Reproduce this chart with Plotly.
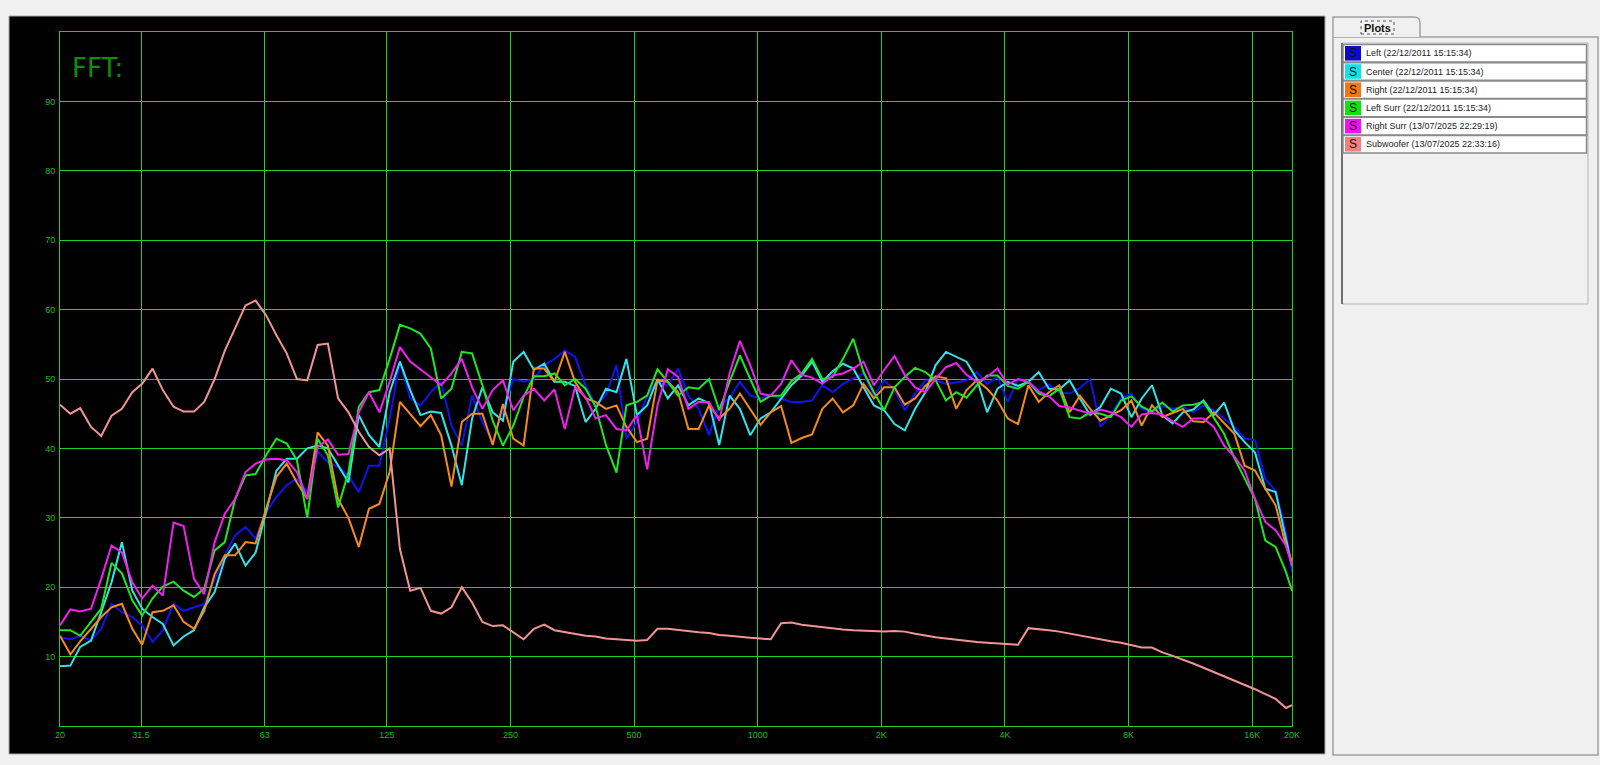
import math
import plotly.graph_objects as go

# ---------------- data ----------------
freq_hz = [
    20.0, 21.2, 22.4, 23.8, 25.2, 26.7, 28.3, 30.0, 31.7, 33.6, 35.6, 37.8,
    40.0, 42.4, 44.9, 47.6, 50.4, 53.4, 56.6, 59.9, 63.5, 67.3, 71.3, 75.5,
    80.0, 84.8, 89.8, 95.1, 100.8, 106.8, 113.1, 119.9, 127.0, 134.5, 142.5, 151.0,
    160, 169.5, 179.6, 190.3, 201.6, 213.6, 226.3, 239.7, 254.0, 269.1, 285.1, 302.1,
    320, 339, 359, 381, 403, 427, 453, 479, 508, 538, 570, 604,
    640, 678, 718, 761, 806, 854, 905, 959, 1016, 1076, 1140, 1208,
    1280, 1356, 1437, 1522, 1613, 1709, 1810, 1918, 2032, 2153, 2281, 2417,
    2560, 2712, 2874, 3044, 3225, 3417, 3620, 3836, 4064, 4305, 4561, 4833,
    5120, 5424, 5747, 6089, 6451, 6834, 7241, 7671, 8127, 8611, 9123, 9665,
    10240, 10849, 11494, 12177, 12902, 13669, 14482, 15343, 16255, 17222, 18246, 19331,
    20000,
]

left_db = [
    12.8, 12.5, 13.0, 12.3, 14.0, 17.6, 16.4, 15.7, 14.5, 12.1, 13.8, 17.6,
    16.6, 17.1, 17.6, 21.2, 24.6, 27.5, 28.7, 27.0, 30.8, 33.0, 34.7, 35.6,
    33.7, 39.5, 38.0, 37.3, 36.1, 33.7, 37.5, 37.5, 44.3, 52.5, 47.2, 46.2,
    48.1, 49.6, 43.3, 40.4, 47.6, 43.8, 40.9, 45.5, 50.0, 49.6, 50.0, 52.0,
    52.9, 54.1, 53.2, 49.1, 46.2, 47.6, 52.0, 41.4, 43.8, 47.6, 49.6, 49.1,
    51.5, 47.6, 45.7, 41.9, 46.2, 47.2, 49.6, 47.6, 47.2, 47.6, 47.2, 46.7,
    46.7, 46.9, 49.1, 48.1, 49.3, 50.0, 50.8, 47.6, 49.8, 48.4, 45.5, 47.9,
    49.8, 49.8, 49.3, 49.5, 49.8, 51.0, 49.3, 50.3, 46.7, 50.0, 49.6, 48.4,
    49.2, 48.1, 47.9, 48.7, 50.0, 43.1, 44.8, 47.2, 47.9, 45.7, 45.2, 46.1,
    45.7, 46.0, 45.2, 46.2, 45.5, 44.3, 43.1, 41.4, 41.2, 35.6, 33.9, 27.9,
    22.2,
]

center_db = [
    8.6, 8.7, 11.4, 12.3, 16.4, 20.7, 26.5, 19.5, 16.9, 15.7, 14.7, 11.6,
    12.9, 13.8, 17.1, 19.3, 24.1, 26.3, 23.1, 25.0, 30.8, 36.8, 38.5, 38.5,
    40.0, 40.4, 40.0, 37.5, 35.1, 44.8, 41.9, 40.2, 48.1, 52.5, 48.4, 44.8,
    45.3, 45.1, 40.4, 34.7, 44.3, 48.8, 45.2, 44.0, 52.5, 53.9, 51.3, 52.2,
    49.6, 49.6, 49.0, 43.8, 45.7, 48.6, 48.1, 52.9, 44.8, 46.2, 50.0, 47.2,
    49.1, 46.2, 47.2, 46.5, 40.5, 47.6, 45.7, 41.9, 44.3, 45.2, 47.2, 49.1,
    50.5, 52.5, 49.6, 51.1, 52.2, 51.5, 48.8, 46.2, 45.5, 43.5, 42.6, 45.7,
    48.1, 52.0, 53.9, 53.2, 52.5, 50.0, 45.2, 48.6, 49.6, 49.0, 49.6, 51.0,
    48.6, 48.5, 49.8, 47.2, 44.8, 46.0, 48.6, 47.9, 44.5, 47.2, 49.1, 44.8,
    43.6, 45.2, 45.6, 46.9, 44.8, 46.6, 42.6, 40.9, 39.4, 34.2, 33.7, 27.0,
    23.1,
]

right_db = [
    13.0, 10.3, 12.2, 14.0, 15.7, 17.1, 17.6, 14.0, 11.7, 16.4, 16.6, 17.4,
    15.0, 14.0, 16.6, 21.9, 24.6, 24.6, 26.5, 26.3, 31.3, 35.9, 37.8, 35.1,
    32.7, 42.3, 40.4, 32.7, 30.0, 25.8, 31.3, 32.0, 36.6, 46.7, 45.0, 43.2,
    44.8, 41.9, 34.5, 43.8, 45.0, 45.0, 40.5, 46.4, 41.4, 40.4, 51.5, 51.5,
    49.6, 53.9, 49.6, 47.2, 46.7, 45.7, 46.2, 43.1, 40.9, 41.4, 49.8, 49.6,
    48.1, 42.8, 42.8, 46.2, 44.3, 45.7, 47.9, 45.7, 43.4, 45.2, 46.1, 40.8,
    41.5, 42.0, 45.7, 47.2, 45.2, 46.2, 49.3, 47.2, 48.8, 48.8, 46.3, 47.2,
    49.0, 50.4, 50.1, 45.7, 48.4, 49.8, 48.6, 46.9, 44.3, 43.5, 49.1, 46.7,
    48.1, 49.1, 45.2, 47.6, 45.7, 44.0, 44.8, 45.5, 46.9, 43.3, 46.2, 44.5,
    45.1, 45.7, 43.9, 43.8, 45.2, 43.6, 42.1, 37.5, 36.8, 34.2, 31.8, 26.0,
    23.6,
]

left_surr_db = [
    13.8, 13.8, 13.0, 15.0, 16.9, 23.5, 22.0, 18.1, 15.9, 18.4, 20.1, 20.8,
    19.5, 18.6, 19.8, 25.3, 26.5, 32.7, 36.1, 36.3, 39.0, 41.4, 40.7, 38.3,
    30.0, 41.4, 39.0, 31.5, 36.6, 46.0, 48.1, 48.4, 52.9, 57.8, 57.3, 56.5,
    54.4, 47.2, 48.6, 53.9, 53.7, 49.1, 44.0, 40.4, 43.3, 47.4, 50.4, 50.4,
    50.8, 49.1, 50.0, 48.6, 46.0, 40.5, 36.5, 46.2, 46.7, 47.6, 51.4, 49.6,
    47.6, 48.8, 48.6, 50.0, 45.5, 49.6, 53.4, 50.0, 46.7, 47.6, 47.6, 49.7,
    50.8, 52.9, 50.0, 50.3, 52.9, 55.8, 51.0, 48.1, 45.5, 48.8, 50.3, 51.6,
    51.0, 49.8, 46.9, 48.1, 47.3, 49.1, 50.5, 50.5, 49.0, 48.6, 49.6, 47.9,
    47.5, 48.6, 44.5, 44.3, 45.2, 45.0, 44.5, 46.9, 47.5, 46.0, 45.3, 46.6,
    45.3, 46.2, 46.3, 46.7, 44.3, 42.1, 38.6, 35.6, 32.7, 26.7, 25.8, 22.2,
    19.5,
]

right_surr_db = [
    14.5, 16.8, 16.5, 16.9, 21.2, 26.0, 25.0, 20.7, 18.4, 20.2, 18.8, 29.3,
    28.8, 21.2, 19.0, 26.5, 30.6, 32.7, 36.6, 37.8, 38.4, 38.5, 38.3, 36.6,
    32.8, 40.2, 41.3, 39.1, 39.2, 45.2, 48.1, 45.2, 49.6, 54.6, 52.5, 51.4,
    50.3, 49.1, 50.8, 52.9, 48.8, 45.7, 48.4, 49.8, 45.5, 47.6, 48.6, 46.9,
    48.5, 42.8, 48.8, 47.4, 44.3, 44.8, 42.8, 42.6, 44.8, 37.0, 46.2, 51.4,
    50.3, 45.7, 46.7, 46.7, 44.0, 50.8, 55.5, 52.0, 47.9, 47.6, 49.3, 52.7,
    50.6, 50.2, 49.3, 50.5, 50.8, 51.5, 52.5, 49.1, 51.3, 53.3, 50.6, 48.8,
    48.1, 50.0, 51.7, 52.3, 50.6, 49.6, 50.3, 51.5, 49.2, 50.0, 49.6, 48.2,
    47.5, 46.1, 45.9, 45.5, 45.0, 45.6, 45.2, 44.5, 43.1, 44.9, 45.1, 44.9,
    43.9, 43.1, 44.3, 44.3, 43.1, 40.4, 38.8, 36.8, 32.7, 29.4, 28.2, 26.0,
    23.1,
]

subwoofer_db = [
    46.3, 45.0, 45.8, 43.1, 41.8, 44.7, 45.7, 48.1, 49.3, 51.5, 48.4, 46.0,
    45.3, 45.3, 46.7, 50.0, 54.1, 57.3, 60.6, 61.3, 59.2, 56.3, 53.7, 50.0,
    49.8, 54.9, 55.1, 47.2, 45.2, 42.4, 40.2, 39.0, 40.0, 25.5, 19.5, 19.9,
    16.6, 16.2, 17.1, 20.0, 17.8, 15.0, 14.4, 14.5, 13.5, 12.5, 14.0, 14.6,
    13.8, 13.5, 13.3, 13.0, 12.9, 12.6, 12.5, 12.4, 12.3, 12.4, 14.0, 14.0,
    13.8, 13.7, 13.5, 13.4, 13.1, 13.0, 12.8, 12.7, 12.6, 12.5, 14.8, 14.9,
    14.6, 14.4, 14.3, 14.1, 13.9, 13.8, 13.7, 13.7, 13.6, 13.7, 13.6, 13.3,
    13.0, 12.8, 12.6, 12.4, 12.3, 12.1, 12.0, 11.9, 11.8, 11.7, 14.1, 14.0,
    13.8, 13.6, 13.3, 13.1, 12.8, 12.5, 12.2, 12.0, 11.6, 11.3, 11.3, 10.6,
    10.1, 9.6, 9.0, 8.4, 7.8, 7.2, 6.6, 6.0, 5.3, 4.6, 3.9, 2.6,
    3.0,
]

series_names = ["Left", "Center", "Right", "Left Surr", "Right Surr", "Subwoofer"]
series_dates = ["22/12/2011 15:15:34", "22/12/2011 15:15:34", "22/12/2011 15:15:34",
                "22/12/2011 15:15:34", "13/07/2025 22:29:19", "13/07/2025 22:33:16"]
series_values = [left_db, center_db, right_db, left_surr_db, right_surr_db, subwoofer_db]

x_tick_vals = [20, 31.5, 63, 125, 250, 500, 1000, 2000, 4000, 8000, 16000, 20000]
x_tick_text = ["20", "31.5", "63", "125", "250", "500", "1000", "2K", "4K", "8K", "16K", "20K"]
y_tick_vals = [10, 20, 30, 40, 50, 60, 70, 80, 90]

# ---------------- styling ----------------
line_colors = ["#1212ee", "#33e3ea", "#f58a1e", "#1fe61f", "#ee22ee", "#f29494"]
swatch_colors = ["#0a0ad0", "#10e0e8", "#f07814", "#10e010", "#f010f0", "#f08080"]
GRID = "#22cf22"
LABEL = "#1cbf1c"

W, H = 1600, 765
L, R, T, B = 60, 308, 32, 39
PW, PH = W - L - R, H - T - B


def px(xp):
    return (xp - L) / PW


def py(yp):
    return (H - B - yp) / PH


fig = go.Figure()
for name, vals, col in zip(series_names, series_values, line_colors):
    fig.add_trace(go.Scatter(x=freq_hz, y=vals, mode="lines", name=name,
                             line=dict(color=col, width=2), hoverinfo="skip"))

shapes = []
annotations = []

# black scope panel
shapes.append(dict(type="rect", xref="paper", yref="paper", layer="below",
                   x0=px(9), x1=px(1325), y0=py(754), y1=py(16),
                   fillcolor="black", line=dict(color="#a8a8a8", width=1)))

# right-hand "Plots" tab panel
shapes.append(dict(type="rect", xref="paper", yref="paper", layer="below",
                   x0=px(1333), x1=px(1598), y0=py(755), y1=py(37),
                   fillcolor="#f0f0f0", line=dict(color="#a0a0a0", width=1.5)))
tab_path = "M {a},{b} L {a},{c} L {d},{c} Q {e},{c} {e},{f} L {e},{b}".format(
    a=px(1333), b=py(37), c=py(17), d=px(1414), e=px(1420), f=py(23))
shapes.append(dict(type="path", xref="paper", yref="paper", path=tab_path,
                   fillcolor="#f0f0f0", line=dict(color="#a0a0a0", width=1.5)))
shapes.append(dict(type="rect", xref="paper", yref="paper",
                   x0=px(1361), x1=px(1394), y0=py(34), y1=py(21),
                   line=dict(color="#555555", width=1, dash="dot")))
annotations.append(dict(x=px(1377), y=py(28), xref="paper", yref="paper",
                        xanchor="center", yanchor="middle",
                        text="<b>Plots</b>", showarrow=False,
                        font=dict(family="Liberation Sans", size=11, color="#111111")))
# list box
shapes.append(dict(type="rect", xref="paper", yref="paper",
                   x0=px(1342), x1=px(1588), y0=py(304), y1=py(43),
                   fillcolor="#f0f0f0", line=dict(color="#b4b4b4", width=1)))
shapes.append(dict(type="line", xref="paper", yref="paper",
                   x0=px(1342), x1=px(1342), y0=py(304), y1=py(43),
                   line=dict(color="#707070", width=2)))

row_top0, row_pitch, row_h = 44.5, 18.2, 17.6
for i, (name, date, sw) in enumerate(zip(series_names, series_dates, swatch_colors)):
    top = row_top0 + i * row_pitch
    bot = top + row_h
    mid = (top + bot) / 2
    shapes.append(dict(type="rect", xref="paper", yref="paper",
                       x0=px(1343), x1=px(1586.5), y0=py(bot), y1=py(top),
                       fillcolor="white", line=dict(color="#8a8a8a", width=1.5)))
    shapes.append(dict(type="rect", xref="paper", yref="paper",
                       x0=px(1345), x1=px(1361), y0=py(bot - 1.5), y1=py(top + 1.5),
                       fillcolor=sw, line=dict(width=0)))
    annotations.append(dict(x=px(1353), y=py(mid), xref="paper", yref="paper",
                            xanchor="center", yanchor="middle",
                            text="S", showarrow=False,
                            font=dict(family="Liberation Sans", size=12, color="#111111")))
    annotations.append(dict(x=px(1364), y=py(mid), xref="paper", yref="paper",
                            xanchor="left", yanchor="middle",
                            text=f"{name} ({date})", showarrow=False,
                            font=dict(family="Liberation Sans Narrow, Liberation Sans",
                                      size=9, color="#222222")))

# FFT: caption
annotations.append(dict(x=px(70), y=py(68), xref="paper", yref="paper",
                        xanchor="left", yanchor="middle", text="FFT:", showarrow=False,
                        font=dict(family="DejaVu Sans", size=26, color="#0b8f0b")))

fig.update_layout(
    width=W, height=H,
    margin=dict(l=L, r=R, t=T, b=B, pad=0),
    paper_bgcolor="#f0f0f0", plot_bgcolor="black",
    showlegend=False,
    shapes=shapes, annotations=annotations,
    xaxis=dict(type="log", range=[math.log10(20), math.log10(20000)],
               tickmode="array", tickvals=x_tick_vals, ticktext=x_tick_text,
               showgrid=True, gridcolor=GRID, gridwidth=1, zeroline=False,
               showline=True, linecolor=GRID, linewidth=1, mirror=True,
               ticks="", ticklabelstandoff=0,
               tickfont=dict(family="Liberation Sans Narrow, Liberation Sans", size=9, color=LABEL)),
    yaxis=dict(range=[0, 100], tickmode="array", tickvals=y_tick_vals,
               showgrid=True, gridcolor=GRID, gridwidth=1, zeroline=False,
               showline=True, linecolor=GRID, linewidth=1, mirror=True,
               ticks="", ticklabelstandoff=2,
               tickfont=dict(family="Liberation Sans Narrow, Liberation Sans", size=9, color=LABEL)),
)

fig.write_html(
    "out.html",
    config={"displayModeBar": False},
    post_script="document.body.style.margin='0px';document.body.style.padding='0px';"
                "document.body.style.overflow='hidden';",
)
